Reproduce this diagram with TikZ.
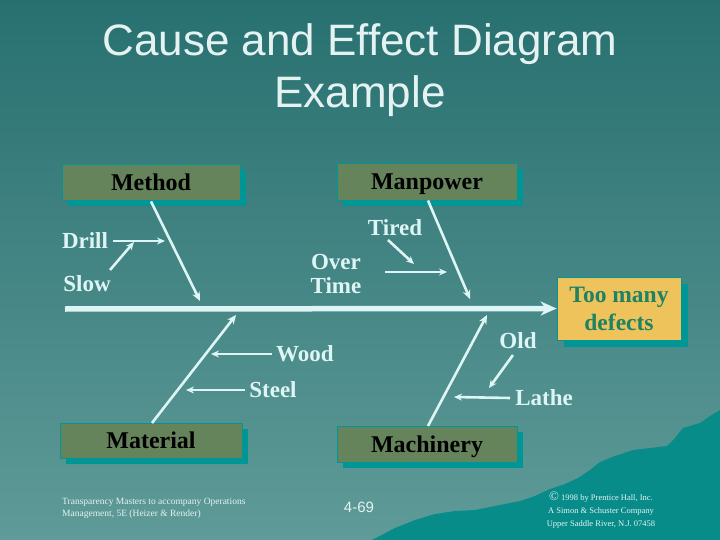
\documentclass[tikz,border=0pt]{standalone}
\usepackage{fontspec}
\setmainfont{Liberation Serif}
\setsansfont{Liberation Sans}
\usetikzlibrary{shadows,arrows.meta}
\definecolor{bgtop}{RGB}{40,112,112}
\definecolor{bgbot}{RGB}{95,155,152}
\definecolor{mount}{RGB}{8,140,138}
\definecolor{boxfill}{RGB}{102,132,92}
\definecolor{shadowteal}{RGB}{0,150,150}
\definecolor{effectfill}{RGB}{238,195,92}
\definecolor{effecttext}{RGB}{30,130,100}
\definecolor{lightline}{RGB}{222,245,245}
\definecolor{titlecol}{RGB}{228,242,242}
\tikzset{
  catbox/.style={draw=shadowteal, line width=0.8pt, fill=boxfill, minimum width=178pt, minimum height=36pt,
    inner sep=0pt, text height=18pt, text depth=2pt, font=\fontsize{24}{28}\selectfont\bfseries, text=black,
    drop shadow={shadow xshift=6pt, shadow yshift=-6pt, fill=shadowteal, opacity=1}},
  effectbox/.style={draw=shadowteal, line width=0.8pt, fill=effectfill, minimum width=124pt, minimum height=63pt,
    inner sep=0pt, align=center, font=\fontsize{23.5}{28}\selectfont\bfseries, text=effecttext,
    drop shadow={shadow xshift=7pt, shadow yshift=-7pt, fill=shadowteal, opacity=1}},
  causelabel/.style={inner sep=0pt, font=\fontsize{23}{24}\selectfont\bfseries, text=lightline, align=center},
  bone/.style={draw=lightline, line width=2.6pt, -{Stealth[length=9pt,width=8pt]}},
  subarrow/.style={draw=lightline, line width=2.6pt, -{Stealth[length=8pt,width=7pt]}},
  spine/.style={draw=lightline, line width=5.5pt, -{Stealth[length=16pt,width=14pt]}},
}
\begin{document}
\begin{tikzpicture}[x=1pt,y=-1pt]
\useasboundingbox (0,0) rectangle (720,540);
\fill[top color=bgtop, bottom color=bgbot] (0,0) rectangle (720,540);
% mountains
\fill[mount] (372,540) -- (395,528) -- (415,520) -- (435,514) -- (455,511) -- (475,510) -- (490,507)
  -- (505,504) -- (520,501) -- (535,496) -- (550,489) -- (565,484) -- (578,478) -- (590,470)
  -- (600,462) -- (615,456) -- (633,450) -- (650,448) -- (667,446) -- (675,438) -- (683,428)
  -- (700,423) -- (710,416) -- (720,410) -- (720,540) -- cycle;

% title
\node[font=\sffamily\fontsize{44}{52}\selectfont, text=titlecol, align=center] (title) at (360,70)
  {Cause and Effect Diagram\\Example};

% category boxes
\node[catbox] (method) at (151,182.5) {Method};
\node[catbox, minimum width=180pt, minimum height=37pt] (manpower) at (427,181.5) {Manpower};
\node[catbox, minimum width=182pt, minimum height=35pt] (material) at (151,440.5) {Material};
\node[catbox, minimum width=180pt] (machinery) at (427,444) {Machinery};
\node[effectbox] (effect) at (619,308.5) {Too many\\defects};

% spine
\coordinate (spinestart) at (65,309);
\draw[spine] (spinestart) -- (effect.west);

% bone end points
\coordinate (mEnd) at (200,301);
\coordinate (pEnd) at (470,299);
\coordinate (matEnd) at (236,315);
\coordinate (macEnd) at (487,315);
\draw[bone] (method.south) ++(0,0.5) coordinate (mStart) -- (mEnd);
\draw[bone] (428,200.5) coordinate (pStart) -- (pEnd);
\draw[bone] (152,423) coordinate (matStart) -- (matEnd);
\draw[bone] (428,426) coordinate (macStart) -- (macEnd);

% cause labels
\node[causelabel] (drill) at (85,241) {Drill};
\node[causelabel] (slow) at (87,284) {Slow};
\node[causelabel] (tired) at (395,228) {Tired};
\node[causelabel] (overtime) at (336,274) {Over\\Time};
\node[causelabel] (wood) at (305,354) {Wood};
\node[causelabel] (steel) at (273,390) {Steel};
\node[causelabel] (old) at (518,341) {Old};
\node[causelabel] (lathe) at (544,398) {Lathe};

% sub arrows
\coordinate (drillEnd) at (165,241);
\coordinate (slowEnd) at (134,242);
\coordinate (tiredEnd) at (414,264);
\coordinate (otEnd) at (447,272);
\coordinate (woodEnd) at (211,354);
\coordinate (steelEnd) at (186,390);
\coordinate (oldEnd) at (489,388);
\coordinate (latheEnd) at (454,397);
\draw[subarrow] ([xshift=5pt]drill.east) -- (drillEnd);
\draw[subarrow] (110,270) coordinate (slowStart) -- (slowEnd);
\draw[subarrow] (388,240) coordinate (tiredStart) -- (tiredEnd);
\draw[subarrow] (385,272) coordinate (otStart) -- (otEnd);
\draw[subarrow] ([xshift=-4pt]wood.west) -- (woodEnd);
\draw[subarrow] ([xshift=-4pt]steel.west) -- (steelEnd);
\draw[subarrow] (513,355) coordinate (oldStart) -- (oldEnd);
\draw[subarrow] ([xshift=-5pt]lathe.west) -- (latheEnd);

% footer
\node[anchor=west, align=left, inner sep=0pt, text=titlecol, font=\fontsize{9.5}{12}\selectfont] (credit) at (62,508)
  {Transparency Masters to accompany Operations\\Management, 5E (Heizer \& Render)};
\node[text=titlecol, font=\sffamily\fontsize{15}{18}\selectfont, inner sep=0pt] (page) at (359,507) {4-69};
\node[align=center, inner sep=0pt, text=titlecol, font=\fontsize{8.5}{13}\selectfont] (copy) at (601,510)
  {{\fontsize{13}{13}\selectfont\textcopyright} 1998 by Prentice Hall, Inc.\\A Simon \& Schuster Company\\Upper Saddle River, N.J. 07458};
\end{tikzpicture}
\end{document}
